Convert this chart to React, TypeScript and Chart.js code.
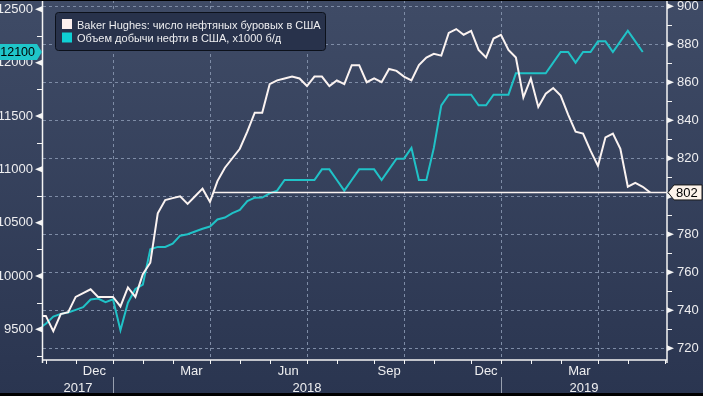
import React, { useEffect, useRef } from 'react';
import { Chart, registerables } from 'chart.js';

Chart.register(...registerables);

// ---------- data ----------
// weekly categories (Fridays), first one 20 Oct 2017
const weekStartUTC = Date.UTC(2017, 9, 20);
const weekCount = 85;

const seriesNames = [
  'Baker Hughes: число нефтяных буровых в США',
  'Объем добычи нефти в США, x1000 б/д',
];

// Baker Hughes oil rig count (right axis), weekly from 20 Oct 2017
const rigCount = [
  737, 737, 729, 738, 739, 747, 749, 751, 747, 747,
  747, 742, 752, 747, 759, 765, 791, 798, 799, 800,
  796, 800, 804, 797, 808, 815, 820, 825, 834, 844,
  844, 859, 861, 862, 863, 862, 858, 863, 863, 858,
  861, 859, 869, 869, 860, 862, 860, 867, 866, 863,
  861, 869, 873, 875, 874, 886, 888, 885, 887, 877,
  873, 883, 885, 877, 873, 852, 862, 847, 854, 857,
  853, 843, 834, 833, 824, 816, 831, 833, 825, 805,
  807, 805, 802,
];

// US crude oil output, thousand b/d (left axis), weekly from 20 Oct 2017
const oilOutput = [
  9500, 9553, 9620, 9645, 9658, 9682, 9707, 9780, 9789, 9754,
  9782, 9492, 9750, 9878, 9919, 10251, 10273, 10273, 10303, 10378,
  10392, 10417, 10443, 10464, 10530, 10548, 10589, 10619, 10703, 10734,
  10735, 10775, 10800, 10900, 10900, 10900, 10900, 10900, 11000, 11000,
  10900, 10800, 10900, 11000, 11000, 11000, 10900, 11000, 11100, 11100,
  11200, 10900, 10900, 11200, 11600, 11700, 11700, 11700, 11700, 11600,
  11600, 11700, 11700, 11700, 11900, 11900, 11900, 11900, 11900, 12000,
  12100, 12100, 12000, 12100, 12100, 12200, 12200, 12100, 12200, 12300,
  12200, 12100,
];

const leftTicks = [9500, 10000, 10500, 11000, 11500, 12000, 12500];
const leftMinorTicks = [9250, 9750, 10250, 10750, 11250, 11750, 12250];
const rightTicks = [720, 740, 760, 780, 800, 820, 840, 860, 880, 900];
const rightMinorTicks = [730, 750, 770, 790, 810, 830, 850, 870, 890];
const monthNames = ['Jan', 'Feb', 'Mar', 'Apr', 'May', 'Jun', 'Jul', 'Aug', 'Sep', 'Oct', 'Nov', 'Dec'];
const labeledMonths = [2, 5, 8, 11];

// scale windows
const xRange = [0.62, 84.25];
const leftRange = [9212.5, 12587.5];
const rightRange = [713.8, 903.3];

// ---------- styles ----------
const FONT = '"Liberation Sans", Arial, sans-serif';
const TEXT = '#eeeef0';
const WHITE_LINE = '#fbf3f1';
const CYAN_LINE = '#20c2c7';
const GRID = '#7e8ca6';
const AXIS = '#f4f4f4';

const DAY = 86400000;
const weeks = Array.from({ length: weekCount }, (_, k) => new Date(weekStartUTC + k * 7 * DAY));
const monthEnds: number[] = [];
weeks.forEach((d, k) => {
  const next = new Date(d.getTime() + 7 * DAY);
  if (next.getUTCMonth() !== d.getUTCMonth()) monthEnds.push(k);
});

function drawGrid(chart: any) {
  const { ctx, chartArea: a, scales } = chart;
  const xs = scales.x;
  const yR = scales.yR;
  ctx.save();
  ctx.strokeStyle = GRID;
  ctx.lineWidth = 1;
  ctx.setLineDash([3, 3]);
  ctx.beginPath();
  rightTicks.forEach((v) => {
    const y = Math.round(yR.getPixelForValue(v)) + 0.5;
    ctx.moveTo(a.left, y);
    ctx.lineTo(a.right, y);
  });
  monthEnds.forEach((k) => {
    if (!labeledMonths.includes(weeks[k].getUTCMonth())) return;
    const x = Math.round(xs.getPixelForValue(k)) + 0.5;
    if (x < a.left || x > a.right) return;
    ctx.moveTo(x, a.top);
    ctx.lineTo(x, a.bottom);
  });
  ctx.stroke();
  ctx.restore();
}

const decor = {
  id: 'decor',
  beforeDraw(chart: any) {
    const { ctx, width, height } = chart;
    ctx.save();
    const g = ctx.createLinearGradient(0, 0, 0, height);
    g.addColorStop(0, '#3f4b66');
    g.addColorStop(1, '#2a3550');
    ctx.fillStyle = g;
    ctx.fillRect(0, 0, width, height);
    ctx.restore();
  },
  beforeDatasetsDraw(chart: any) {
    drawGrid(chart);
  },
  afterDatasetsDraw(chart: any) {
    const { ctx, chartArea: a, scales } = chart;
    const xs = scales.x;
    const yR = scales.yR;
    const last = rigCount[rigCount.length - 1];
    let start = 0;
    for (let k = rigCount.length - 2; k >= 0; k--) {
      if (rigCount[k] < last) {
        start = k + (last - rigCount[k]) / (rigCount[k + 1] - rigCount[k]);
        break;
      }
    }
    const y = yR.getPixelForValue(last);
    ctx.save();
    ctx.strokeStyle = WHITE_LINE;
    ctx.lineWidth = 1.5;
    ctx.beginPath();
    ctx.moveTo(xs.getPixelForValue(start), y);
    ctx.lineTo(a.right, y);
    ctx.stroke();
    ctx.restore();
  },
  afterDraw(chart: any) {
    const { ctx, chartArea: a, scales, width } = chart;
    const xs = scales.x;
    const yL = scales.yL;
    const yR = scales.yR;
    ctx.save();

    // axis lines
    ctx.strokeStyle = AXIS;
    ctx.lineWidth = 1.5;
    ctx.beginPath();
    ctx.moveTo(a.left - 0.5, a.top);
    ctx.lineTo(a.left - 0.5, a.bottom + 3);
    ctx.moveTo(a.right, a.top);
    ctx.lineTo(a.right, a.bottom + 3);
    ctx.moveTo(a.left - 1, a.bottom);
    ctx.lineTo(a.right + 0.5, a.bottom);
    ctx.stroke();

    // major tick markers (triangles) and minor ticks
    ctx.fillStyle = AXIS;
    leftTicks.forEach((v) => {
      const ty = yL.getPixelForValue(v);
      ctx.beginPath();
      ctx.moveTo(a.left - 1, ty - 3);
      ctx.lineTo(a.left - 1, ty + 3);
      ctx.lineTo(a.left - 8, ty);
      ctx.closePath();
      ctx.fill();
    });
    rightTicks.forEach((v) => {
      const ty = yR.getPixelForValue(v);
      ctx.beginPath();
      ctx.moveTo(a.right, ty - 3);
      ctx.lineTo(a.right, ty + 3);
      ctx.lineTo(a.right + 7, ty);
      ctx.closePath();
      ctx.fill();
    });
    ctx.lineWidth = 1;
    ctx.beginPath();
    leftMinorTicks.forEach((v) => {
      const ty = Math.round(yL.getPixelForValue(v)) + 0.5;
      ctx.moveTo(a.left - 6, ty);
      ctx.lineTo(a.left, ty);
    });
    rightMinorTicks.forEach((v) => {
      const ty = Math.round(yR.getPixelForValue(v)) + 0.5;
      ctx.moveTo(a.right, ty);
      ctx.lineTo(a.right + 5, ty);
    });
    // month-end ticks on the x axis
    monthEnds.forEach((k) => {
      const tx = Math.round(xs.getPixelForValue(k)) + 0.5;
      if (tx < a.left || tx > a.right + 1) return;
      ctx.moveTo(tx, a.bottom);
      ctx.lineTo(tx, a.bottom + 4);
    });
    ctx.stroke();

    // month labels
    ctx.fillStyle = TEXT;
    ctx.font = `13px ${FONT}`;
    ctx.textAlign = 'center';
    ctx.textBaseline = 'alphabetic';
    for (let j = 1; j < monthEnds.length; j++) {
      const k = monthEnds[j];
      const m = weeks[k].getUTCMonth();
      if (!labeledMonths.includes(m)) continue;
      const cx = (xs.getPixelForValue(monthEnds[j - 1]) + xs.getPixelForValue(k)) / 2;
      ctx.fillText(monthNames[m], cx, a.bottom + 15);
    }
    // year labels and separators
    const yearEnds = monthEnds.filter((k) => weeks[k].getUTCMonth() === 11);
    const bounds = [a.left, ...yearEnds.map((k) => xs.getPixelForValue(k)), a.right];
    const firstYear = weeks[0].getUTCFullYear();
    for (let i = 0; i < bounds.length - 1; i++) {
      ctx.fillText(String(firstYear + i), (bounds[i] + bounds[i + 1]) / 2, a.bottom + 32);
    }
    ctx.strokeStyle = 'rgba(200,205,215,0.7)';
    ctx.lineWidth = 1;
    ctx.beginPath();
    yearEnds.forEach((k) => {
      const sx = Math.round(xs.getPixelForValue(k)) + 0.5;
      ctx.moveTo(sx, a.bottom + 17);
      ctx.lineTo(sx, a.bottom + 33);
    });
    ctx.stroke();

    // last-value tag, right axis
    const lastRig = rigCount[rigCount.length - 1];
    const ry = yR.getPixelForValue(lastRig);
    ctx.beginPath();
    ctx.moveTo(a.right + 1, ry);
    ctx.lineTo(a.right + 7, ry - 7.5);
    ctx.lineTo(width - 1, ry - 7.5);
    ctx.lineTo(width - 1, ry + 7.5);
    ctx.lineTo(a.right + 7, ry + 7.5);
    ctx.closePath();
    ctx.fillStyle = '#fdf3ea';
    ctx.fill();
    ctx.strokeStyle = '#1a1a1a';
    ctx.lineWidth = 1;
    ctx.stroke();
    ctx.fillStyle = '#000';
    ctx.font = `13px ${FONT}`;
    ctx.textAlign = 'left';
    ctx.textBaseline = 'middle';
    ctx.fillText(String(lastRig), a.right + 9, ry + 0.5);

    // last-value tag, left axis
    const lastOil = oilOutput[oilOutput.length - 1];
    const ly = yL.getPixelForValue(lastOil);
    ctx.beginPath();
    ctx.moveTo(0, ly - 8);
    ctx.lineTo(a.left - 6, ly - 8);
    ctx.lineTo(a.left - 1, ly);
    ctx.lineTo(a.left - 6, ly + 8);
    ctx.lineTo(0, ly + 8);
    ctx.closePath();
    ctx.fillStyle = '#1fc5c9';
    ctx.fill();
    ctx.fillStyle = '#000';
    ctx.textAlign = 'right';
    ctx.font = `12.5px ${FONT}`;
    ctx.fillText(String(lastOil), a.left - 8, ly + 0.5);

    // legend
    const lx = 55.5, ly0 = 12.5, lw = 270, lh = 38;
    ctx.beginPath();
    ctx.roundRect(lx, ly0, lw, lh, 3);
    ctx.fillStyle = '#28324b';
    ctx.fill();
    ctx.strokeStyle = '#0c111b';
    ctx.lineWidth = 1;
    ctx.stroke();
    const swatches = ['#fdf0ee', '#0fd0d4'];
    ctx.font = `11px ${FONT}`;
    ctx.textAlign = 'left';
    ctx.textBaseline = 'alphabetic';
    seriesNames.forEach((name, i) => {
      const rowY = 19 + i * 13.5;
      ctx.fillStyle = swatches[i];
      ctx.fillRect(62, rowY, 10, 10);
      ctx.fillStyle = TEXT;
      ctx.fillText(name, 77, rowY + 9.5);
    });

    // dark frame strips
    ctx.fillStyle = '#000';
    ctx.fillRect(0, 0, width, 1);
    ctx.fillRect(0, 393, width, 3);
    ctx.restore();
  },
};

export default function App() {
  const ref = useRef<HTMLCanvasElement>(null);
  useEffect(() => {
    document.body.style.margin = '0';
    const canvas = ref.current;
    if (!canvas) return;
    const chart = new Chart(canvas, {
      type: 'line',
      data: {
        datasets: [
          {
            label: seriesNames[0],
            data: rigCount.map((v, k) => ({ x: k, y: v })),
            yAxisID: 'yR',
            borderColor: WHITE_LINE,
            borderWidth: 2,
            pointRadius: 0,
            tension: 0,
          },
          {
            label: seriesNames[1],
            data: oilOutput.map((v, k) => ({ x: k, y: v })),
            yAxisID: 'yL',
            borderColor: CYAN_LINE,
            borderWidth: 2,
            pointRadius: 0,
            tension: 0,
          },
        ],
      },
      options: {
        animation: false,
        responsive: false,
        devicePixelRatio: 1,
        layout: { padding: 0 },
        plugins: { legend: { display: false }, tooltip: { enabled: false } },
        scales: {
          x: {
            type: 'linear',
            min: xRange[0],
            max: xRange[1],
            ticks: { display: false },
            grid: { display: false, drawTicks: false },
            border: { display: false },
            afterFit: (s: any) => {
              s.height = 36;
              s.paddingLeft = 0;
              s.paddingRight = 0;
            },
          },
          yL: {
            type: 'linear',
            position: 'left',
            min: leftRange[0],
            max: leftRange[1],
            afterBuildTicks: (s: any) => {
              s.ticks = leftTicks.map((v) => ({ value: v }));
            },
            ticks: {
              color: TEXT,
              font: { family: FONT, size: 13 },
              padding: 10,
              callback: (v: any) => String(v),
            },
            grid: { display: false, drawTicks: false },
            border: { display: false },
            afterFit: (s: any) => {
              s.width = 43;
              s.paddingTop = 0;
              s.paddingBottom = 0;
            },
          },
          yR: {
            type: 'linear',
            position: 'right',
            min: rightRange[0],
            max: rightRange[1],
            afterBuildTicks: (s: any) => {
              s.ticks = rightTicks.map((v) => ({ value: v }));
            },
            ticks: {
              color: TEXT,
              font: { family: FONT, size: 13 },
              padding: 10,
              callback: (v: any) => String(v),
            },
            grid: { display: false, drawTicks: false },
            border: { display: false },
            afterFit: (s: any) => {
              s.width = 36;
              s.paddingTop = 0;
              s.paddingBottom = 0;
            },
          },
        },
      },
      plugins: [decor],
    } as any);
    return () => chart.destroy();
  }, []);
  return (
    <div style={{ width: 703, height: 396 }}>
      <canvas ref={ref} width={703} height={396} style={{ display: 'block' }} />
    </div>
  );
}
